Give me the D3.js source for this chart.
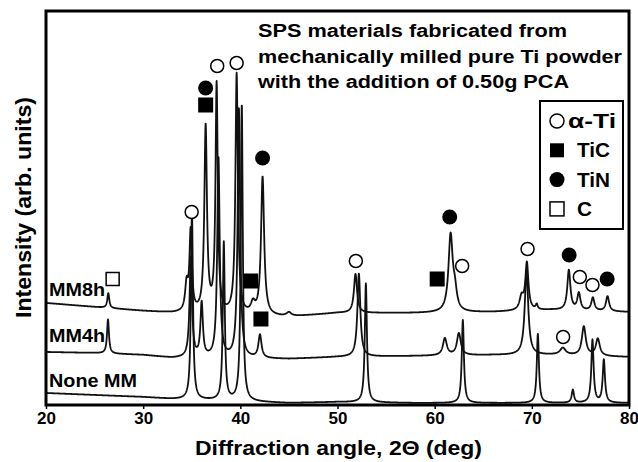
<!DOCTYPE html>
<html>
<head>
<meta charset="utf-8">
<script src="https://cdn.jsdelivr.net/npm/d3@7"></script>
<style>
  body { margin: 0; background: #fff; }
  text { font-family: "Liberation Sans", Arial, sans-serif; font-weight: bold; }
</style>
</head>
<body>
<div id="chart"></div>
<script>
// x axis ticks (2 theta, deg)
var angleTicks = [20, 30, 40, 50, 60, 70, 80];

// background level of each pattern (arb. units) read at these angles
var bgAngles = [20, 25, 30, 33, 45, 50, 58, 66, 72, 80];
var bgMM8h = [102, 98, 94, 92, 88, 92, 92, 93, 95, 93];
var bgMM4h = [53, 52, 50, 47, 46, 48, 49, 50, 50, 48];
var bgNone = [12, 10, 8, 6, 2, 3, 2, 2, 2, 2];

// peaks: position (deg), height above background, half width (deg)
var posMM8h = [26.41, 34.47, 34.89, 36.43, 37.56, 39.62, 41.30, 42.29, 45.0, 51.85, 61.64, 62.08, 68.94, 69.49, 70.5, 73.81, 74.84, 76.28, 77.79];
var hMM8h   = [15, 26, 80, 186, 228, 240, 10, 138, 4, 39, 76, 17, 13, 47, 5, 40, 17, 13, 15];
var wMM8h   = [0.12, 0.18, 0.15, 0.16, 0.14, 0.15, 0.25, 0.19, 0.3, 0.19, 0.26, 0.24, 0.24, 0.19, 0.12, 0.19, 0.19, 0.19, 0.19];

var posMM4h = [26.38, 34.9, 36.02, 37.75, 39.85, 42.02, 52.2, 61.05, 62.49, 69.45, 73.19, 75.35, 76.79];
var hMM4h   = [34, 100, 54, 200, 250, 23, 83, 17, 22, 83, 7, 29, 17];
var wMM4h   = [0.12, 0.15, 0.15, 0.15, 0.15, 0.19, 0.18, 0.24, 0.24, 0.22, 0.35, 0.24, 0.24];

var posNone = [35.02, 38.3, 40.15, 52.92, 62.90, 70.62, 74.22, 76.24, 77.41];
var hNone   = [190, 158, 297, 119, 83, 69, 13, 63, 43];
var wNone   = [0.12, 0.12, 0.12, 0.13, 0.13, 0.13, 0.14, 0.14, 0.14];

// phase markers: angle, intensity
var alphaTi = [[34.99, 193], [37.62, 339], [39.62, 342], [51.89, 144], [62.83, 139], [69.56, 156], [74.94, 128], [76.24, 120], [73.22, 68]];
var tiC = [[36.43, 300], [41.06, 124], [42.12, 86], [60.26, 126]];
var tiN = [[36.43, 317], [42.29, 247], [61.55, 188], [73.84, 150], [77.75, 126]];
var carbon = [[26.86, 126]];

var noteLines = ["SPS materials fabricated from",
                 "mechanically milled pure Ti powder",
                 "with the addition of 0.50g PCA"];
var noteWidths = [309, 364, 311];
var legendNames = ["\u03b1-Ti", "TiC", "TiN", "C"];

var W = 638, H = 462;
var margin = {top: 11, right: 9, bottom: 57, left: 46};
var w = W - margin.left - margin.right;
var h = H - margin.top - margin.bottom;

var svg = d3.select("#chart").append("svg")
    .attr("width", W)
    .attr("height", H);

var g = svg.append("g")
    .attr("transform", "translate(" + margin.left + "," + margin.top + ")");

var x = d3.scaleLinear().domain([20, 80]).range([0, w]);
var y = d3.scaleLinear().domain([0, h]).range([h, 0]);

// build each pattern from background + lorentzian peaks
function pattern(bg, pos, hts, wid) {
    var bgScale = d3.scaleLinear().domain(bgAngles).range(bg);
    var pts = [];
    for (var t = 20; t <= 80.0001; t += 0.02) {
        var v = bgScale(t);
        for (var i = 0; i < pos.length; i++) {
            var u = (t - pos[i]) / wid[i];
            v += hts[i] / (1 + u * u);
        }
        pts.push([t, v]);
    }
    return pts;
}

var patterns = [
    pattern(bgNone, posNone, hNone, wNone),
    pattern(bgMM4h, posMM4h, hMM4h, wMM4h),
    pattern(bgMM8h, posMM8h, hMM8h, wMM8h)
];

svg.append("clipPath").attr("id", "clip")
  .append("rect").attr("width", w).attr("height", h);

var line = d3.line()
    .x(function(d) { return x(d[0]); })
    .y(function(d) { return y(d[1]); });

g.append("g").attr("clip-path", "url(#clip)")
  .selectAll("path")
  .data(patterns)
  .enter()
  .append("path")
    .attr("d", line)
    .attr("fill", "none")
    .attr("stroke", "#111")
    .attr("stroke-width", 1.8)
    .attr("stroke-linejoin", "round");

// pattern labels
var seriesLabels = [["MM8h", 296, 56], ["MM4h", 342, 56], ["None MM", 387, 88]];
svg.selectAll(".slabel")
  .data(seriesLabels)
  .enter()
  .append("text")
    .attr("class", "slabel")
    .attr("x", 49)
    .attr("y", function(d) { return d[1]; })
    .attr("font-size", 19)
    .attr("textLength", function(d) { return d[2]; })
    .attr("lengthAdjust", "spacingAndGlyphs")
    .text(function(d) { return d[0]; });

// markers
g.selectAll(".aTi").data(alphaTi).enter().append("circle")
    .attr("cx", function(d) { return x(d[0]); })
    .attr("cy", function(d) { return y(d[1]); })
    .attr("r", 6.5)
    .attr("fill", "#fff").attr("stroke", "#000").attr("stroke-width", 1.5);

g.selectAll(".tiN").data(tiN).enter().append("circle")
    .attr("cx", function(d) { return x(d[0]); })
    .attr("cy", function(d) { return y(d[1]); })
    .attr("r", 7.5)
    .attr("fill", "#000");

g.selectAll(".tiC").data(tiC).enter().append("rect")
    .attr("x", function(d) { return x(d[0]) - 7.5; })
    .attr("y", function(d) { return y(d[1]) - 7.5; })
    .attr("width", 15).attr("height", 15)
    .attr("fill", "#000");

g.selectAll(".carb").data(carbon).enter().append("rect")
    .attr("x", function(d) { return x(d[0]) - 6.5; })
    .attr("y", function(d) { return y(d[1]) - 6.5; })
    .attr("width", 13).attr("height", 13)
    .attr("fill", "#fff").attr("stroke", "#000").attr("stroke-width", 1.5);

// frame
g.append("rect")
    .attr("width", w).attr("height", h)
    .attr("fill", "none").attr("stroke", "#000").attr("stroke-width", 3);

// x axis
var xAxis = g.append("g")
    .attr("transform", "translate(0," + h + ")")
    .call(d3.axisBottom(x).tickValues(angleTicks).tickSize(4).tickPadding(3));
xAxis.select(".domain").remove();
xAxis.selectAll("line").attr("stroke-width", 1.5);
xAxis.selectAll("text")
    .attr("font-size", 17)
    .attr("font-family", "Liberation Sans, Arial, sans-serif")
    .attr("font-weight", "bold")
    .attr("fill", "#000");

svg.append("text")
    .attr("x", 195)
    .attr("y", 455)
    .attr("font-size", 20)
    .attr("textLength", 287)
    .attr("lengthAdjust", "spacingAndGlyphs")
    .text("Diffraction angle, 2\u0398 (deg)");

svg.append("text")
    .attr("transform", "translate(31,318) rotate(-90)")
    .attr("font-size", 22.5)
    .attr("textLength", 221)
    .attr("lengthAdjust", "spacingAndGlyphs")
    .text("Intensity (arb. units)");

// note
svg.selectAll(".note")
  .data(noteLines)
  .enter()
  .append("text")
    .attr("class", "note")
    .attr("x", 258)
    .attr("y", function(d, i) { return 37 + i * 25.5; })
    .attr("font-size", 17.5)
    .attr("textLength", function(d, i) { return noteWidths[i]; })
    .attr("lengthAdjust", "spacingAndGlyphs")
    .text(function(d) { return d; });

// legend
var legend = svg.append("g").attr("transform", "translate(540,101)");
legend.append("rect")
    .attr("width", 83).attr("height", 128)
    .attr("fill", "#fff").attr("stroke", "#000").attr("stroke-width", 2);

var items = legend.selectAll(".legend-item")
    .data(legendNames)
    .enter()
    .append("g")
    .attr("class", "legend-item")
    .attr("transform", function(d, i) { return "translate(17," + (20 + i * 29.3) + ")"; });

items.each(function(d, i) {
    var it = d3.select(this);
    if (i === 0) it.append("circle").attr("r", 7).attr("fill", "#fff").attr("stroke", "#000").attr("stroke-width", 1.5);
    if (i === 1) it.append("rect").attr("x", -7).attr("y", -7).attr("width", 14).attr("height", 14).attr("fill", "#000");
    if (i === 2) it.append("circle").attr("r", 7.5).attr("fill", "#000");
    if (i === 3) it.append("rect").attr("x", -7).attr("y", -7).attr("width", 14).attr("height", 14).attr("fill", "#fff").attr("stroke", "#000").attr("stroke-width", 1.5);
});

items.append("text")
    .attr("x", function(d, i) { return i === 0 ? 11 : 20; })
    .attr("y", 7)
    .attr("font-size", 20.5)
    .attr("textLength", function(d, i) { return i === 0 ? 48 : (i === 3 ? 15 : 33); })
    .attr("lengthAdjust", "spacingAndGlyphs")
    .text(function(d) { return d; });
</script>
</body>
</html>
